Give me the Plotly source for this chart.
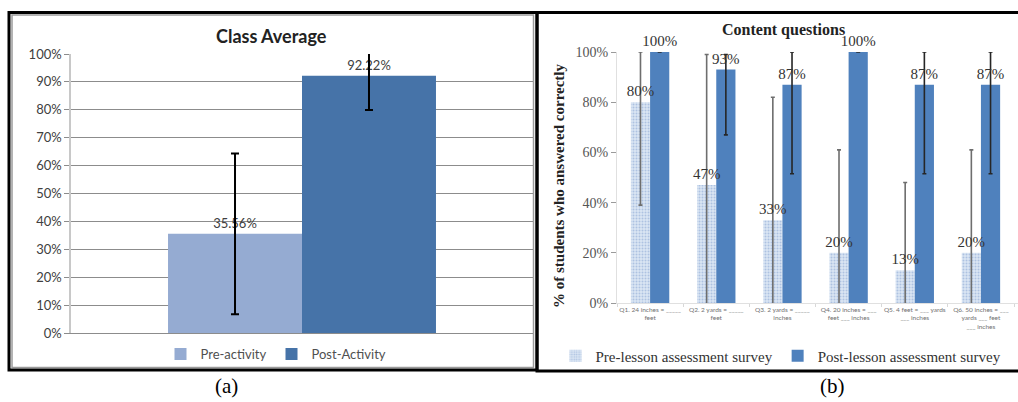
import plotly.graph_objects as go

W, H = 1018, 402

# ---------------- data: panel (a) ----------------
a_category = ["Class Average"]
a_pre = [35.56]
a_post = [92.22]
a_pre_err = [28.8]
a_post_err = [12.3]
a_tickvals = [0, 10, 20, 30, 40, 50, 60, 70, 80, 90, 100]

# ---------------- data: panel (b) ----------------
b_questions = [
    "Q1. 24 inches = _____<br>feet",
    "Q2. 2 yards = _____<br>feet",
    "Q3. 2 yards = _____<br>inches",
    "Q4. 20 inches = ___<br>feet ___ inches",
    "Q5. 4 feet = ___ yards<br>___ inches",
    "Q6. 50 inches = ___<br>yards ___ feet<br>___ inches",
]
b_pre = [80, 47, 33, 20, 13, 20]
b_post = [100, 93, 87, 100, 87, 87]
b_pre_err_plus = [20, 52, 49, 41, 35, 41]
b_pre_err_minus = [41, 52, 49, 41, 35, 41]
b_post_err_plus = [0, 6, 13, 0, 13, 13]
b_post_err_minus = [0, 26, 35.5, 0, 35.5, 35.5]
b_tickvals = [0, 20, 40, 60, 80, 100]


def px_x(p):
    return p / W


def px_y(p):
    return 1 - p / H


CAL = "Lato, 'Open Sans', sans-serif"
SERIF = "'Liberation Serif', 'DejaVu Serif', serif"

fig = go.Figure()

# ----- panel (a) -----
fig.add_trace(go.Bar(
    x=a_category, y=a_pre, name="Pre-activity", offsetgroup="a_pre",
    marker=dict(color="#95abd2", line=dict(width=0)),
    error_y=dict(type="data", array=a_pre_err, color="#000000", thickness=2, width=4),
    text=[f"{v:.2f}%" for v in a_pre], textposition="outside", constraintext="none",
    textfont=dict(family=CAL, size=13, color="#404040"),
    cliponaxis=True, xaxis="x", yaxis="y", legend="legend",
))
fig.add_trace(go.Bar(
    x=a_category, y=a_post, name="Post-Activity", offsetgroup="a_post",
    marker=dict(color="#4673a8", line=dict(width=0)),
    error_y=dict(type="data", array=a_post_err, color="#000000", thickness=2, width=4),
    text=[f"{v:.2f}%" for v in a_post], textposition="outside", constraintext="none",
    textfont=dict(family=CAL, size=13, color="#404040"),
    cliponaxis=True, xaxis="x", yaxis="y", legend="legend",
))

# ----- panel (b): bars + error bars (clipped to plot area) -----
fig.add_trace(go.Bar(
    x=b_questions, y=b_pre, name="Pre-lesson assessment survey", offsetgroup="b_pre",
    marker=dict(color="#c6d6ec", line=dict(width=0),
                pattern=dict(shape=".", fgcolor="#7fa0cf", bgcolor="#dbe5f3",
                             size=3, solidity=0.35)),
    error_y=dict(type="data", symmetric=False, array=b_pre_err_plus,
                 arrayminus=b_pre_err_minus, color="#6e6e6e", thickness=1.6, width=2),
    cliponaxis=True, xaxis="x2", yaxis="y2", legend="legend2",
))
fig.add_trace(go.Bar(
    x=b_questions, y=b_post, name="Post-lesson assessment survey", offsetgroup="b_post",
    marker=dict(color="#4f81bd", line=dict(width=0)),
    error_y=dict(type="data", symmetric=False, array=b_post_err_plus,
                 arrayminus=b_post_err_minus, color="#262626", thickness=1.6, width=2),
    cliponaxis=True, xaxis="x2", yaxis="y2", legend="legend2",
))
# ----- panel (b): data labels (unclipped, same positions) -----
for vals, grp in ((b_pre, "b_pre"), (b_post, "b_post")):
    fig.add_trace(go.Bar(
        x=b_questions, y=vals, offsetgroup=grp, showlegend=False, hoverinfo="skip",
        marker=dict(color="rgba(0,0,0,0)", line=dict(width=0)),
        text=[f"{v}%" for v in vals], textposition="outside", constraintext="none",
        textfont=dict(family=SERIF, size=15, color="#333333"),
        cliponaxis=False, xaxis="x2", yaxis="y2", legend="legend2",
    ))

shapes = [
    dict(type="rect", xref="paper", yref="paper", x0=px_x(9), x1=px_x(537),
         y0=px_y(370), y1=px_y(12.5), line=dict(color="#000000", width=3), layer="above"),
    dict(type="rect", xref="paper", yref="paper", x0=px_x(12), x1=px_x(533.5),
         y0=px_y(367.5), y1=px_y(15), line=dict(color="#9a9a9a", width=1.5), layer="below"),
    dict(type="rect", xref="paper", yref="paper", x0=px_x(537), x1=px_x(1030),
         y0=px_y(371), y1=px_y(12.5), line=dict(color="#000000", width=3), layer="above"),
]

annotations = [
    dict(text="<b>Class Average</b>", xref="paper", yref="paper", x=px_x(271), y=px_y(36),
         showarrow=False, font=dict(family=CAL, size=18, color="#222222"),
         xanchor="center", yanchor="middle"),
    dict(text="<b>Content questions</b>", xref="paper", yref="paper", x=px_x(783), y=px_y(30),
         showarrow=False, font=dict(family=SERIF, size=16, color="#222222"),
         xanchor="center", yanchor="middle"),
    dict(text="<b>% of students who answered correctly</b>", xref="paper", yref="paper",
         x=px_x(559), y=px_y(186), textangle=-90, showarrow=False,
         font=dict(family=SERIF, size=15, color="#222222"),
         xanchor="center", yanchor="middle"),
    dict(text="(a)", xref="paper", yref="paper", x=px_x(226), y=px_y(386),
         showarrow=False, font=dict(family=SERIF, size=21, color="#000000"),
         xanchor="center", yanchor="middle"),
    dict(text="(b)", xref="paper", yref="paper", x=px_x(832), y=px_y(386),
         showarrow=False, font=dict(family=SERIF, size=21, color="#000000"),
         xanchor="center", yanchor="middle"),
]

fig.update_layout(
    width=W, height=H,
    margin=dict(l=0, r=0, t=0, b=0, autoexpand=False),
    paper_bgcolor="#ffffff", plot_bgcolor="#ffffff",
    barmode="group", bargap=0.42, bargroupgap=0,
    showlegend=True,
    xaxis=dict(domain=[px_x(71), px_x(533)], anchor="y", showticklabels=False,
               showgrid=False, showline=True, linecolor="#8c8c8c", linewidth=1,
               ticks="", zeroline=False, fixedrange=True, automargin=False),
    yaxis=dict(domain=[px_y(333), px_y(54)], anchor="x", range=[0, 100],
               tickvals=a_tickvals, ticktext=[f"{v}%" for v in a_tickvals],
               showgrid=True, gridcolor="#8c8c8c", gridwidth=1,
               showline=True, linecolor="#c8c8c8", linewidth=1.5,
               ticks="outside", ticklen=5, tickcolor="#8c8c8c",
               tickfont=dict(family=CAL, size=13, color="#404040"),
               zeroline=False, fixedrange=True, automargin=False),
    xaxis2=dict(domain=[px_x(617), 1.0], anchor="y2", range=[-0.5, 5.56],
                showgrid=False, showline=True, linecolor="#e0e0e0", linewidth=1,
                ticks="outside", tickson="boundaries", ticklen=3, tickcolor="#d8d8d8",
                tickfont=dict(family=CAL, size=6.5, color="#707070"),
                tickangle=0, zeroline=False, fixedrange=True, automargin=False),
    yaxis2=dict(domain=[px_y(303), px_y(52)], anchor="x2", range=[0, 100],
                tickvals=b_tickvals, ticktext=[f"{v}%" for v in b_tickvals],
                showgrid=False, showline=True, linecolor="#e0e0e0", linewidth=1,
                ticks="outside", ticklen=5, tickcolor="#9a9a9a",
                tickfont=dict(family=SERIF, size=14, color="#555555"),
                zeroline=False, fixedrange=True, automargin=False),
    legend=dict(orientation="h", x=px_x(276), y=px_y(354), xanchor="center", yanchor="middle",
                font=dict(family=CAL, size=13, color="#505050"),
                bgcolor="rgba(0,0,0,0)", itemwidth=30, tracegroupgap=0),
    legend2=dict(orientation="h", x=px_x(781), y=px_y(356), xanchor="center", yanchor="middle",
                 font=dict(family=SERIF, size=15, color="#333333"),
                 bgcolor="rgba(0,0,0,0)", itemwidth=30, tracegroupgap=0),
    shapes=shapes,
    annotations=annotations,
)

fig.write_html(
    "out.html",
    post_script="document.body.style.margin='0';document.body.style.overflow='hidden';",
    config={"displayModeBar": False},
)
